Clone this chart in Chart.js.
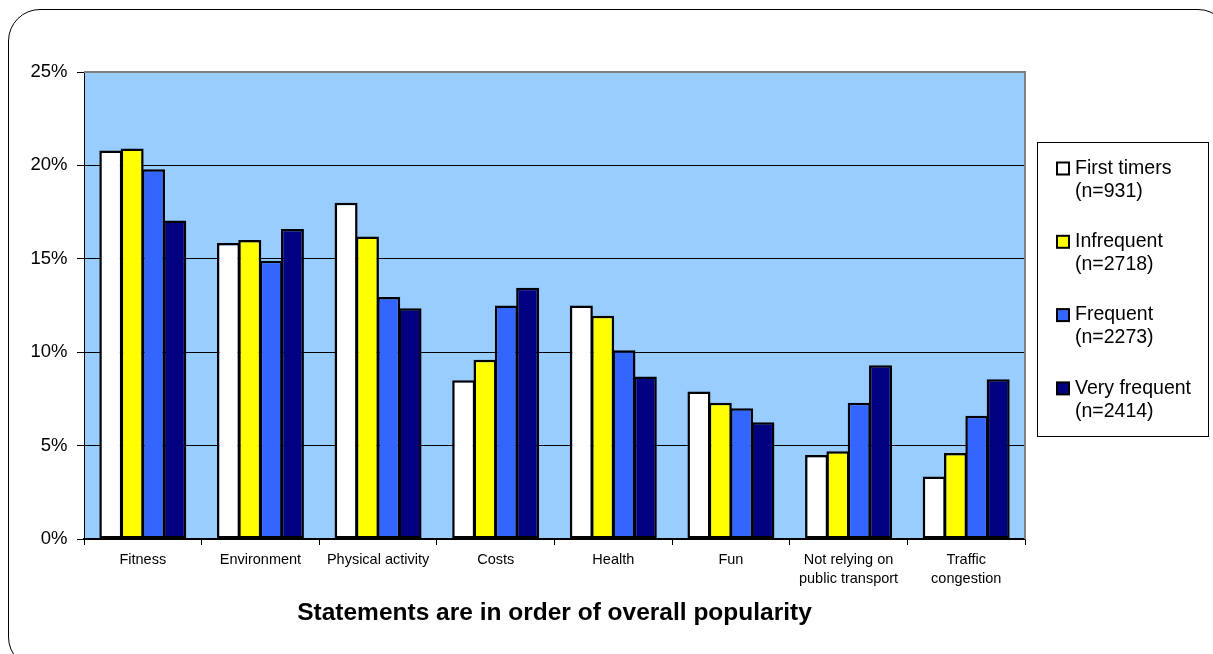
<!DOCTYPE html>
<html>
<head>
<meta charset="utf-8">
<script src="https://cdn.jsdelivr.net/npm/chart.js@4/dist/chart.umd.min.js"></script>
<style>
  html, body { margin: 0; padding: 0; background: #fff; }
  #wrap { position: relative; width: 1213px; height: 654px; overflow: hidden; }
  #frame {
    position: absolute; left: 8px; top: 9px; width: 1222px; height: 660px;
    border: 1.5px solid #000; border-radius: 32px; box-sizing: border-box;
  }
  canvas { position: absolute; left: 0; top: 0; }
</style>
</head>
<body>
<div id="wrap">
  <div id="frame"></div>
  <canvas id="c" width="1213" height="654"></canvas>
</div>
<script>
// Reasons for cycling, share of mentions per rider group (%)
const categories = [
  'Fitness', 'Environment', 'Physical activity', 'Costs', 'Health', 'Fun',
  ['Not relying on', 'public transport'], ['Traffic', 'congestion']
];
const firstTimers  = [20.8, 15.85, 18.0, 8.5, 12.5, 7.9, 4.5, 3.35];
const infrequent   = [20.9, 16.0, 16.2, 9.6, 11.95, 7.3, 4.7, 4.6];
const frequent     = [19.8, 14.9, 12.95, 12.5, 10.1, 7.0, 7.3, 6.6];
const veryFrequent = [17.05, 16.6, 12.35, 13.45, 8.7, 6.25, 9.3, 8.55];

const groupNames  = ['First timers', 'Infrequent', 'Frequent', 'Very frequent'];
const groupCounts = ['(n=931)', '(n=2718)', '(n=2273)', '(n=2414)'];
const groupColors = ['#FFFFFF', '#FFFF00', '#3366FF', '#000080'];

const yTicks = [0, 5, 10, 15, 20, 25];
const axisTitle = 'Statements are in order of overall popularity';

const FONT = '"Liberation Sans", Arial, sans-serif';

// Light-blue plot background plus grey frame on the top and right edges
const plotFrame = {
  id: 'plotFrame',
  beforeDraw(chart) {
    const { ctx, chartArea: a } = chart;
    ctx.save();
    ctx.fillStyle = '#99CCFF';
    ctx.fillRect(a.left, a.top, a.right - a.left, a.bottom - a.top);
    ctx.restore();
  },
  afterDraw(chart) {
    const { ctx, chartArea: a } = chart;
    ctx.save();
    ctx.strokeStyle = '#808080';
    ctx.lineWidth = 2;
    ctx.beginPath();
    ctx.moveTo(a.left, a.top);
    ctx.lineTo(a.right, a.top);
    ctx.lineTo(a.right, a.bottom);
    ctx.stroke();
    ctx.restore();
  }
};

// Boxed legend on the right, two text lines per group
const sideLegend = {
  id: 'sideLegend',
  afterDraw(chart) {
    const { ctx } = chart;
    const box = { x: 1037.5, y: 142.5, w: 171, h: 294 };
    ctx.save();
    ctx.fillStyle = '#fff';
    ctx.fillRect(box.x, box.y, box.w, box.h);
    ctx.strokeStyle = '#000';
    ctx.lineWidth = 1;
    ctx.strokeRect(box.x, box.y, box.w, box.h);
    ctx.font = '19.5px ' + FONT;
    ctx.textBaseline = 'middle';
    ctx.textAlign = 'left';
    chart.data.datasets.forEach((ds, i) => {
      const cy = 168.5 + i * 73.3;
      ctx.fillStyle = ds.backgroundColor;
      ctx.fillRect(1057, cy - 6, 12, 12);
      ctx.strokeStyle = '#000';
      ctx.lineWidth = 2;
      ctx.strokeRect(1057, cy - 6, 12, 12);
      ctx.fillStyle = '#000';
      ctx.fillText(groupNames[i], 1075, cy);
      ctx.fillText(groupCounts[i], 1075, cy + 23);
    });
    ctx.restore();
  }
};

const seriesValues = [firstTimers, infrequent, frequent, veryFrequent];

new Chart(document.getElementById('c'), {
  type: 'bar',
  data: {
    labels: categories,
    datasets: seriesValues.map((vals, i) => ({
      label: groupNames[i] + ' ' + groupCounts[i],
      data: vals,
      backgroundColor: groupColors[i],
      borderColor: '#000',
      borderWidth: 2.5,
      borderSkipped: false,
      categoryPercentage: 0.725,
      barPercentage: 1.08
    }))
  },
  options: {
    responsive: false,
    devicePixelRatio: 1,
    animation: false,
    layout: { padding: { left: 10, top: 72, right: 188, bottom: 0 } },
    plugins: { legend: { display: false }, tooltip: { enabled: false } },
    scales: {
      x: {
        offset: true,
        grid: {
          offset: true,
          drawOnChartArea: false,
          drawTicks: true,
          tickLength: 6,
          color: '#000',
          lineWidth: 1
        },
        border: { display: true, color: '#000', width: 1.5 },
        ticks: {
          color: '#000',
          font: { family: FONT, size: 14.5, lineHeight: 1.3 },
          padding: 5.5,
          maxRotation: 0,
          autoSkip: false
        },
        title: {
          display: true,
          text: axisTitle,
          color: '#000',
          font: { family: FONT, size: 24.5, weight: 'bold', lineHeight: 1.2 },
          padding: { top: 0, bottom: 26 }
        },
        afterFit(s) { s.height = 115; s.paddingLeft = 0; s.paddingRight = 0; }
      },
      y: {
        min: 0,
        max: 25,
        afterBuildTicks(s) { s.ticks = yTicks.map(v => ({ value: v })); },
        grid: {
          color: '#000',
          lineWidth: 1,
          drawTicks: true,
          tickLength: 7
        },
        border: { display: true, color: '#000', width: 1 },
        ticks: {
          color: '#000',
          font: { family: FONT, size: 18.5 },
          padding: 9.5,
          callback: v => v + '%'
        },
        afterFit(s) { s.width = 74; s.paddingTop = 0; s.paddingBottom = 0; }
      }
    }
  },
  plugins: [plotFrame, sideLegend]
});
</script>
</body>
</html>
